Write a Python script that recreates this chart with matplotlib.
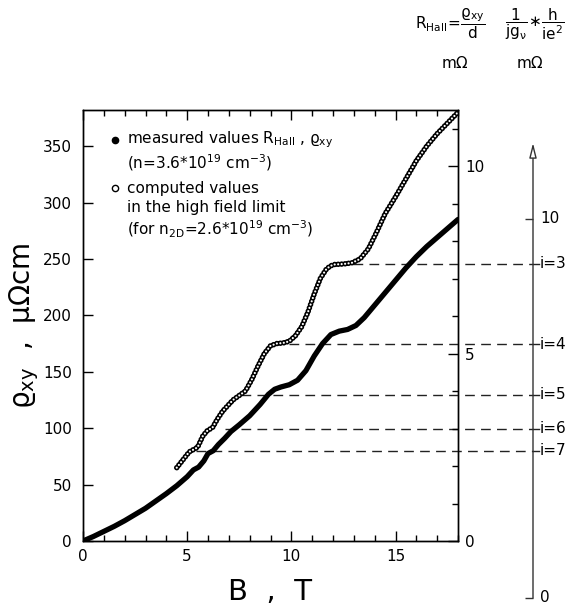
import matplotlib

matplotlib.use("Agg")
import matplotlib.pyplot as plt
from matplotlib import transforms
from matplotlib.ticker import MultipleLocator

# measured Hall resistivity, B in T, rho_xy in micro-ohm cm
B_MEAS = [0, 0.5, 1, 1.5, 2, 2.5, 3, 3.5, 4, 4.5, 5.0, 5.3, 5.55, 5.8, 6.0,
          6.25, 6.5, 6.8, 7.1, 7.5, 8.0, 8.5, 8.9, 9.2, 9.5, 9.9, 10.3, 10.7,
          11.1, 11.5, 11.9, 12.3, 12.7, 13.1, 13.5, 14.0, 14.5, 15.0, 15.5,
          16.0, 16.5, 17.0, 17.5, 18.0]
RHO_MEAS = [0, 4, 8.5, 13, 18, 23.5, 29, 35.5, 42, 49, 57, 63, 65.5, 71, 77.5,
            80, 85.5, 91, 97, 103, 111, 121, 130, 134.5, 136.5, 138.5, 142.5,
            151, 164, 175, 183, 186, 187.5, 191, 198, 209, 220, 231, 242,
            252, 261, 269, 277, 285]

# computed high field limit
B_COMP = [4.5, 4.8, 5.1, 5.3, 5.5, 5.75, 6.0, 6.2, 6.45, 6.7, 7.0, 7.2, 7.5,
          7.8, 8.1, 8.4, 8.7, 9.0, 9.3, 9.6, 9.9, 10.2, 10.5, 10.8, 11.1,
          11.4, 11.7, 12.0, 12.5, 12.9, 13.3, 13.7, 14.1, 14.5, 15.0, 15.5,
          16.0, 16.5, 17.0, 17.5, 18.0]
RHO_COMP = [65, 72, 79, 81, 83, 93, 98.5, 100, 108, 115, 121, 125, 129, 133,
            143, 155, 166, 173, 175, 175.5, 177, 182, 190, 203, 219, 233,
            241.5, 245, 245.5, 246.5, 250, 259, 274, 290, 305, 321, 337, 350,
            361, 370.5, 380]

# quantized plateau levels
I_LABELS = ["i=3", "i=4", "i=5", "i=6", "i=7"]
I_LEVELS = [245.8, 174.5, 129.5, 99.5, 80]
I_START = [12.97, 9.9, 7.6, 6.8, 5.4]

X_TICKS = [0, 5, 10, 15]
Y_TICKS = [0, 50, 100, 150, 200, 250, 300, 350]
R_TICKS = [0, 5, 10]

plt.rcParams.update({
    "font.family": "DejaVu Sans",
    "font.size": 11,
    "mathtext.fontset": "dejavusans",
    "mathtext.default": "regular",
    "lines.scale_dashes": False,
    "axes.linewidth": 1.0,
})

W, H = 575, 609
fig = plt.figure(figsize=(W / 100, H / 100), dpi=100)

AX_L, AX_R, AX_B, AX_T = 83, 458, 541, 110
ax = fig.add_axes([AX_L / W, 1 - AX_B / H, (AX_R - AX_L) / W, (AX_B - AX_T) / H])
XMAX, YMAX, RMAX = 18, 382, 11.5
ax.set_xlim(0, XMAX)
ax.set_ylim(0, YMAX)

# measured: dense filled dots -> thick line
ax.plot(B_MEAS, RHO_MEAS, color="black", lw=3.8, solid_capstyle="round",
        solid_joinstyle="round", zorder=4)

# computed: chain of open circles
ax.plot(B_COMP, RHO_COMP, color="black", lw=4.0, dashes=(0.01, 2.5),
        dash_capstyle="round", zorder=4)
ax.plot(B_COMP, RHO_COMP, color="white", lw=1.6, dashes=(0.01, 2.5),
        dash_capstyle="round", zorder=5)

ax.set_xticks(X_TICKS)
ax.xaxis.set_minor_locator(MultipleLocator(1))
ax.set_yticks(Y_TICKS)
ax.tick_params(axis="x", which="major", direction="in", length=7, width=1,
               top=True, labelsize=11, pad=6)
ax.tick_params(axis="x", which="minor", direction="in", length=4, width=1,
               top=True)
ax.tick_params(axis="y", which="major", direction="in", length=7, width=1,
               right=False, labelsize=11, pad=8)
ax.set_xlabel("B  ,  T", fontsize=21, labelpad=10)
ax.set_ylabel(r"$\varrho_{xy}$  ,  µΩcm", fontsize=20, labelpad=1)

# second scale in milliohm
ax2 = ax.twinx()
ax2.set_ylim(0, RMAX)
ax2.set_yticks(R_TICKS)
ax2.yaxis.set_minor_locator(MultipleLocator(1))
ax2.tick_params(axis="y", which="major", direction="in", length=7, width=1,
                labelsize=11, pad=5)
ax2.tick_params(axis="y", which="minor", direction="in", length=4.5, width=1)

# legend block
ax.plot([0.085], [0.930], "o", ms=4.5, color="black", transform=ax.transAxes)
ax.plot([0.085], [0.819], "o", ms=4.5, mfc="white", mec="black", mew=1,
        transform=ax.transAxes)
legend_lines = [
    (0.930, r"measured values $R_{Hall}$ , $\varrho_{xy}$"),
    (0.879, r"(n=3.6*10$^{19}$ cm$^{-3}$)"),
    (0.819, "computed values"),
    (0.773, "in the high field limit"),
    (0.722, r"(for n$_{2D}$=2.6*10$^{19}$ cm$^{-3}$)"),
]
for ypos, txt in legend_lines:
    ax.text(0.117, ypos, txt, transform=ax.transAxes, fontsize=11,
            va="center", ha="left")

# far right scale: 1/(j g) * h/(i e^2)
FAR_X, FAR_B, FAR_T = 533, 598, 143
ax3 = fig.add_axes([FAR_X / W, 1 - FAR_B / H, (W - FAR_X) / W, (FAR_B - FAR_T) / H])
ax3.set_xlim(0, 1)
ax3.set_ylim(0, 12)
for s in ax3.spines.values():
    s.set_visible(False)
ax3.set_xticks([])
ax3.set_yticks(R_TICKS[::2])
ax3.tick_params(axis="y", direction="out", length=6, width=1, color="#333333",
                labelleft=False)
ax3.patch.set_visible(False)
ax3.annotate("", xy=(0, 12), xytext=(0, 0),
             arrowprops=dict(arrowstyle="-|>,head_length=0.8,head_width=0.2",
                             lw=1, color="#333333", fc="white",
                             shrinkA=0, shrinkB=0),
             annotation_clip=False)
for val in R_TICKS[::2]:
    ax3.text(0.17, val, str(val), fontsize=11, va="center", ha="left")

# dashed plateau lines running out to the far scale
x_far = XMAX * (FAR_X - AX_L) / (AX_R - AX_L)
mixed = transforms.blended_transform_factory(ax3.transAxes, ax.transData)
for lab, lev, x0 in zip(I_LABELS, I_LEVELS, I_START):
    ax.plot([x0, x_far], [lev, lev], color="#222222", lw=1,
            dashes=(7, 4.5), clip_on=False, zorder=3)
    ax3.plot([0, 0.14], [lev, lev], color="#222222", lw=1,
             transform=mixed, clip_on=False)
    ax3.text(0.16, lev, lab, transform=mixed, fontsize=11, va="center",
             ha="left")

# header formulas
fig.text(450 / W, 1 - 24 / H, r"$R_{Hall}\!=\!\dfrac{\varrho_{xy}}{d}$",
         fontsize=11, ha="center", va="center")
fig.text(455 / W, 1 - 63 / H, "mΩ", fontsize=11, ha="center", va="center")
fig.text(535 / W, 1 - 24 / H, r"$\dfrac{1}{jg_{\nu}}\!\ast\!\dfrac{h}{ie^2}$",
         fontsize=11, ha="center", va="center")
fig.text(530 / W, 1 - 63 / H, "mΩ", fontsize=11, ha="center", va="center")

fig.savefig("out.png", dpi=100)
